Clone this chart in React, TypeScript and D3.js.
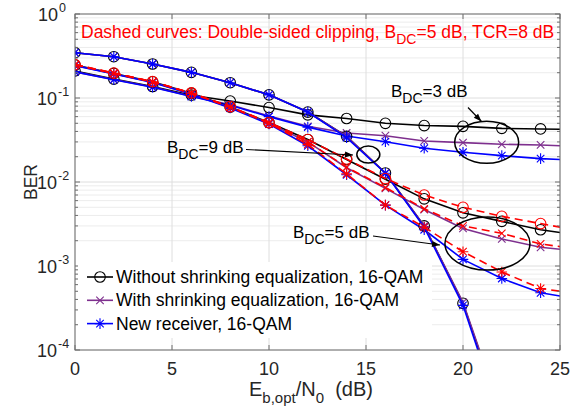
import React from 'react';
import * as d3 from 'd3';

// ---------- data ----------
const xTicks = [0, 5, 10, 15, 20, 25];
const yTickExps = [0, -1, -2, -3, -4];
const snrFull = [0, 2, 4, 6, 8, 10, 12, 14, 16, 18, 20, 22, 24, 25];
const snrBdc9 = [0, 2, 4, 6, 8, 10, 12, 14, 16, 18, 20, 22];

// B_DC = 3 dB
const bdc3Without = [0.21, 0.168, 0.137, 0.108, 0.092, 0.077, 0.063, 0.057, 0.05, 0.047, 0.046, 0.0435, 0.0428, 0.0425];
const bdc3With = [0.205, 0.166, 0.135, 0.105, 0.083, 0.061, 0.046, 0.0383, 0.0356, 0.0308, 0.0294, 0.0281, 0.0276, 0.027];
const bdc3New = [0.205, 0.165, 0.134, 0.104, 0.082, 0.06, 0.045, 0.0353, 0.0302, 0.0252, 0.0226, 0.0206, 0.019, 0.0185];
// B_DC = 9 dB
const bdc9Without = [0.346, 0.31, 0.254, 0.202, 0.152, 0.109, 0.068, 0.035, 0.0128, 0.003, 0.00036, 0.000016];
const bdc9With = [0.346, 0.31, 0.254, 0.202, 0.152, 0.109, 0.068, 0.035, 0.0128, 0.003, 0.00037, 0.000017];
const bdc9New = [0.346, 0.31, 0.254, 0.202, 0.152, 0.109, 0.068, 0.0337, 0.0127, 0.0029, 0.00034, 0.000014];
// B_DC = 5 dB (single-sided)
const bdc5Without = [0.247, 0.196, 0.156, 0.114, 0.078, 0.051, 0.032, 0.0185, 0.0108, 0.0063, 0.0043, 0.0034, 0.0027, 0.0025];
const bdc5With = [0.245, 0.194, 0.154, 0.112, 0.077, 0.05, 0.03, 0.0148, 0.0084, 0.0047, 0.0028, 0.0021, 0.00167, 0.00158];
const bdc5New = [0.243, 0.193, 0.153, 0.111, 0.076, 0.049, 0.027, 0.0122, 0.0053, 0.0027, 0.0012, 0.00071, 0.00048, 0.00044];
// B_DC = 5 dB, double-sided clipping (dashed)
const dsWithout = [0.25, 0.198, 0.157, 0.115, 0.079, 0.051, 0.032, 0.0188, 0.011, 0.007, 0.005, 0.0039, 0.0032, 0.0029];
const dsWith = [0.248, 0.197, 0.156, 0.114, 0.078, 0.051, 0.03, 0.015, 0.0086, 0.0048, 0.003, 0.00245, 0.00183, 0.0017];
const dsNew = [0.248, 0.197, 0.156, 0.114, 0.078, 0.05, 0.028, 0.0125, 0.0053, 0.0029, 0.00148, 0.00085, 0.00054, 0.0005];

const legendLabels = [
  'Without shrinking equalization, 16-QAM',
  'With shrinking equalization, 16-QAM',
  'New receiver, 16-QAM',
];

// ---------- layout ----------
const W = 582, H = 412;
const L = 75, R = 560, T = 14, B = 350;
const FONT = '"Liberation Sans", Arial, sans-serif';
const BLACK = '#000000', PURPLE = '#7E2F8E', BLUE = '#0000FF', RED = '#FF0000';

const x = d3.scaleLinear().domain([0, 25]).range([L, R]);
const y = d3.scaleLog().domain([1e-4, 1]).range([B, T]);

type Marker = 'o' | 'x' | '*';
type Series = { xs: number[]; ys: number[]; color: string; marker: Marker; dashed?: boolean; lastNoMarker?: boolean };

const series: Series[] = [
  { xs: snrFull, ys: bdc3Without, color: BLACK, marker: 'o', lastNoMarker: true },
  { xs: snrFull, ys: bdc3With, color: PURPLE, marker: 'x', lastNoMarker: true },
  { xs: snrFull, ys: bdc3New, color: BLUE, marker: '*', lastNoMarker: true },
  { xs: snrFull, ys: bdc5Without, color: BLACK, marker: 'o', lastNoMarker: true },
  { xs: snrFull, ys: bdc5With, color: PURPLE, marker: 'x', lastNoMarker: true },
  { xs: snrFull, ys: bdc5New, color: BLUE, marker: '*', lastNoMarker: true },
  { xs: snrBdc9, ys: bdc9Without, color: BLACK, marker: 'o' },
  { xs: snrBdc9, ys: bdc9With, color: PURPLE, marker: 'x' },
  { xs: snrBdc9, ys: bdc9New, color: BLUE, marker: '*' },
  { xs: snrFull, ys: dsWithout, color: RED, marker: 'o', dashed: true, lastNoMarker: true },
  { xs: snrFull, ys: dsWith, color: RED, marker: 'x', dashed: true, lastNoMarker: true },
  { xs: snrFull, ys: dsNew, color: RED, marker: '*', dashed: true, lastNoMarker: true },
];

function MarkerShape({ cx, cy, type, color }: { cx: number; cy: number; type: Marker; color: string }) {
  const s = 5.3;
  if (type === 'o') return <circle cx={cx} cy={cy} r={s} fill="none" stroke={color} strokeWidth={1.1} />;
  const d = 0.7071 * s;
  const xPath = `M${cx - d},${cy - d}L${cx + d},${cy + d}M${cx - d},${cy + d}L${cx + d},${cy - d}`;
  if (type === 'x') return <path d={xPath} stroke={color} strokeWidth={1.1} fill="none" />;
  const plus = `M${cx - s},${cy}L${cx + s},${cy}M${cx},${cy - s}L${cx},${cy + s}`;
  return <path d={xPath + plus} stroke={color} strokeWidth={1.1} fill="none" />;
}

export default function App() {
  const line = d3.line<[number, number]>().x(d => x(d[0])).y(d => y(d[1]));
  const minorY: number[] = [];
  for (let e = -4; e < 0; e++) for (let m = 2; m <= 9; m++) minorY.push(m * Math.pow(10, e));

  const arrowHead = (x1: number, y1: number, x2: number, y2: number) => {
    const a = Math.atan2(y2 - y1, x2 - x1);
    const len = 8, w = 3;
    const p1 = [x2 - len * Math.cos(a) + w * Math.sin(a), y2 - len * Math.sin(a) - w * Math.cos(a)];
    const p2 = [x2 - len * Math.cos(a) - w * Math.sin(a), y2 - len * Math.sin(a) + w * Math.cos(a)];
    return <path d={`M${x2},${y2}L${p1[0]},${p1[1]}L${p2[0]},${p2[1]}Z`} fill="#000" />;
  };

  return (
    <svg width={W} height={H} style={{ position: 'absolute', left: 0, top: 0, background: '#fff' }} fontFamily={FONT}>
      <defs>
        <clipPath id="plotClip"><rect x={L} y={T} width={R - L} height={B - T} /></clipPath>
      </defs>
      <rect x={0} y={0} width={W} height={H} fill="#fff" />
      {/* grid */}
      {minorY.map((v, i) => (
        <line key={'my' + i} x1={L} x2={R} y1={y(v)} y2={y(v)} stroke="#ececec" strokeWidth={1} />
      ))}
      {yTickExps.map(e => (
        <line key={'gy' + e} x1={L} x2={R} y1={y(Math.pow(10, e))} y2={y(Math.pow(10, e))} stroke="#dedede" strokeWidth={1} />
      ))}
      {xTicks.map(t => (
        <line key={'gx' + t} x1={x(t)} x2={x(t)} y1={T} y2={B} stroke="#dedede" strokeWidth={1} />
      ))}

      {/* curves */}
      <g clipPath="url(#plotClip)">
        {series.map((s, i) => {
          const pts = s.xs.map((xv, j) => [xv, s.ys[j]] as [number, number]);
          return (
            <g key={'s' + i}>
              <path d={line(pts) || ''} fill="none" stroke={s.color} strokeWidth={1.6}
                strokeDasharray={s.dashed ? '8,5' : undefined} />
              {pts.map((p, j) => (s.lastNoMarker && j === pts.length - 1) ? null : (
                <MarkerShape key={j} cx={x(p[0])} cy={y(p[1])} type={s.marker} color={s.color} />
              ))}
            </g>
          );
        })}
      </g>

      {/* axes box and ticks */}
      <rect x={L} y={T} width={R - L} height={B - T} fill="none" stroke="#6e6e6e" strokeWidth={1} />
      {xTicks.map(t => (
        <g key={'xt' + t}>
          <line x1={x(t)} x2={x(t)} y1={B} y2={B - 5} stroke="#6e6e6e" />
          <line x1={x(t)} x2={x(t)} y1={T} y2={T + 5} stroke="#6e6e6e" />
          <text x={x(t)} y={B + 25} fontSize={18} textAnchor="middle" fill="#262626">{t}</text>
        </g>
      ))}
      {minorY.map((v, i) => (
        <g key={'myt' + i}>
          <line x1={L} x2={L + 3} y1={y(v)} y2={y(v)} stroke="#6e6e6e" />
          <line x1={R} x2={R - 3} y1={y(v)} y2={y(v)} stroke="#6e6e6e" />
        </g>
      ))}
      {yTickExps.map(e => (
        <g key={'yt' + e}>
          <line x1={L} x2={L + 5} y1={y(Math.pow(10, e))} y2={y(Math.pow(10, e))} stroke="#6e6e6e" />
          <line x1={R} x2={R - 5} y1={y(Math.pow(10, e))} y2={y(Math.pow(10, e))} stroke="#6e6e6e" />
          <text x={e === 0 ? 58 : 57} y={y(Math.pow(10, e)) + 7} fontSize={18} textAnchor="end" fill="#262626">10</text>
          <text x={e === 0 ? 59 : 58} y={y(Math.pow(10, e)) - 2} fontSize={12.5} textAnchor="start" fill="#262626">{e === 0 ? '0' : '-' + (-e)}</text>
        </g>
      ))}

      {/* axis labels */}
      <text x={249} y={396} fontSize={20} fill="#262626">
        E<tspan fontSize={15} dy={7}>b,opt</tspan><tspan dy={-7}>/N</tspan><tspan fontSize={15} dy={7}>0</tspan><tspan dy={-7}>{'\u00a0\u00a0'}(dB)</tspan>
      </text>
      <text transform={`translate(37,${(T + B) / 2}) rotate(-90)`} fontSize={17.5} textAnchor="middle" fill="#262626">BER</text>

      {/* title annotation */}
      <text x={81} y={38} fontSize={17.5} fill={RED}>
        Dashed curves: Double-sided clipping, B<tspan fontSize={14} dy={6}>DC</tspan><tspan dy={-6}>=5 dB, TCR=8 dB</tspan>
      </text>

      {/* B_DC = 3 dB */}
      <text x={391} y={97} fontSize={17} fill="#000">
        B<tspan fontSize={14} dy={6}>DC</tspan><tspan dy={-6}>=3 dB</tspan>
      </text>
      <line x1={468} y1={107.5} x2={481.5} y2={121.5} stroke="#000" strokeWidth={1.2} />
      {arrowHead(468, 107.5, 481.5, 121.5)}
      <ellipse cx={x(21.22)} cy={y(0.0297)} rx={32} ry={21} fill="none" stroke="#000" strokeWidth={1.5} />

      {/* B_DC = 9 dB */}
      <text x={167} y={153} fontSize={17} fill="#000">
        B<tspan fontSize={14} dy={6}>DC</tspan><tspan dy={-6}>=9 dB</tspan>
      </text>
      <line x1={246} y1={149.5} x2={353} y2={155} stroke="#000" strokeWidth={1.2} />
      {arrowHead(246, 149.5, 353, 155)}
      <ellipse cx={x(15.12)} cy={y(0.0212)} rx={11.5} ry={8.5} fill="none" stroke="#000" strokeWidth={1.5} />

      {/* B_DC = 5 dB */}
      <text x={293} y={238} fontSize={17} fill="#000">
        B<tspan fontSize={14} dy={6}>DC</tspan><tspan dy={-6}>=5 dB</tspan>
      </text>
      <line x1={373} y1={236} x2={440} y2={245} stroke="#000" strokeWidth={1.2} />
      {arrowHead(373, 236, 440, 245)}
      <ellipse cx={x(21.26)} cy={y(0.00185)} rx={42.5} ry={26.5} fill="none" stroke="#000" strokeWidth={1.5} />

      {/* legend */}
      <rect x={78} y={262} width={354} height={76} fill="#fff" stroke="none" />
      {legendLabels.map((lab, i) => {
        const ly = 277 + i * 23.3;
        const col = [BLACK, PURPLE, BLUE][i];
        const mk = (['o', 'x', '*'] as Marker[])[i];
        return (
          <g key={'lg' + i}>
            <line x1={87} x2={113} y1={ly} y2={ly} stroke={col} strokeWidth={1.6} />
            <MarkerShape cx={100} cy={ly} type={mk} color={col} />
            <text x={116} y={ly + 6} fontSize={17.5} fill="#000">{lab}</text>
          </g>
        );
      })}
    </svg>
  );
}
